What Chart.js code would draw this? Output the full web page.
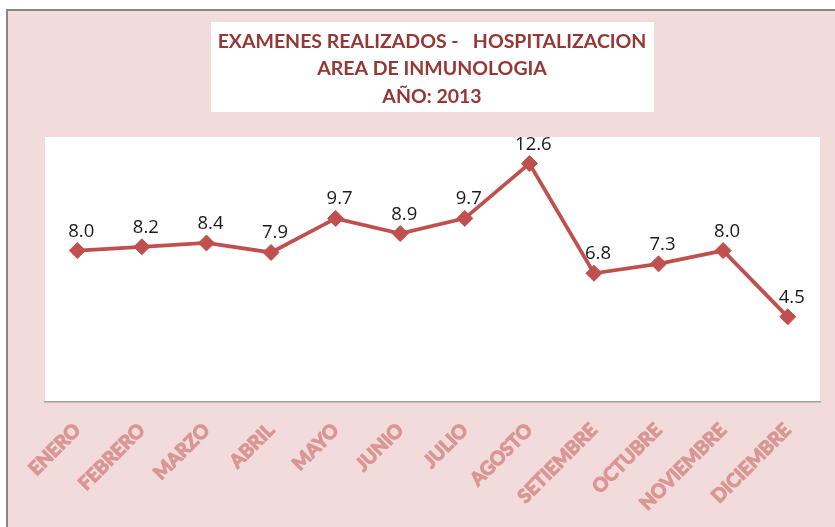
<!DOCTYPE html>
<html>
<head>
<meta charset="utf-8">
<script src="https://cdn.jsdelivr.net/npm/chart.js@4/dist/chart.umd.min.js"></script>
<style>
  html, body { margin: 0; padding: 0; background: #ffffff; }
  #wrap { position: relative; width: 835px; height: 527px; }
</style>
</head>
<body>
<div id="wrap"><canvas id="c" width="835" height="527"></canvas></div>
<script>
const titleLines = ["EXAMENES REALIZADOS -   HOSPITALIZACION", "AREA DE INMUNOLOGIA", "AÑO: 2013"];
const months = ["ENERO", "FEBRERO", "MARZO", "ABRIL", "MAYO", "JUNIO", "JULIO", "AGOSTO", "SETIEMBRE", "OCTUBRE", "NOVIEMBRE", "DICIEMBRE"];
const values = [8.0, 8.2, 8.4, 7.9, 9.7, 8.9, 9.7, 12.6, 6.8, 7.3, 8.0, 4.5];
const yMin = 0;
const yMax = 14;

const backgroundPlugin = {
  id: 'bg',
  beforeDraw(chart) {
    const ctx = chart.ctx;
    const a = chart.chartArea;
    ctx.save();
    ctx.fillStyle = '#ffffff';
    ctx.fillRect(0, 0, chart.width, chart.height);
    ctx.fillStyle = '#868686';
    ctx.fillRect(6, 9, chart.width - 6, chart.height - 9);
    ctx.fillStyle = '#f2dcdb';
    ctx.fillRect(8, 11, chart.width - 8, chart.height - 11);
    // plot area
    ctx.fillStyle = '#ffffff';
    ctx.fillRect(a.left, a.top, a.right - a.left, a.bottom - a.top);
    // title box
    ctx.fillStyle = '#ffffff';
    ctx.fillRect(211, 22, 443, 90);
    ctx.fillStyle = '#953735';
    ctx.font = 'bold 19.5px Lato';
    ctx.textAlign = 'center';
    ctx.textBaseline = 'middle';
    const ys = [42, 69, 97];
    titleLines.forEach((t, i) => ctx.fillText(t, 432, ys[i]));
    ctx.restore();
  }
};

const labelPlugin = {
  id: 'vlabels',
  afterDatasetsDraw(chart) {
    const ctx = chart.ctx;
    const meta = chart.getDatasetMeta(0);
    ctx.save();
    ctx.fillStyle = '#1a1a1a';
    ctx.font = '18.5px "Open Sans"';
    ctx.textAlign = 'center';
    ctx.textBaseline = 'bottom';
    meta.data.forEach((pt, i) => {
      ctx.fillText(values[i].toFixed(1), pt.x + 4, pt.y - 10);
    });
    ctx.restore();
  }
};

new Chart(document.getElementById('c'), {
  type: 'line',
  data: {
    labels: months,
    datasets: [{
      data: values,
      borderColor: '#c0504d',
      borderWidth: 3.75,
      pointStyle: 'rectRot',
      pointRadius: 8,
      pointBackgroundColor: '#c0504d',
      pointBorderColor: '#c0504d',
      pointBorderWidth: 1,
      tension: 0
    }]
  },
  options: {
    responsive: false,
    animation: false,
    layout: { padding: { left: 45, right: 15, top: 137, bottom: 0 } },
    plugins: { legend: { display: false }, tooltip: { enabled: false }, title: { display: false } },
    scales: {
      x: {
        offset: true,
        grid: { display: false, drawTicks: false },
        border: { display: true, color: '#a0a0a0', width: 1.5 },
        ticks: {
          minRotation: 45, maxRotation: 45,
          padding: 17,
          color: '#d99694',
          textStrokeColor: '#d99694',
          textStrokeWidth: 1.2,
          font: { family: 'Lato', weight: 'bold', size: 19 }
        },
        afterFit(s) { s.height = 125; s.paddingLeft = 0; s.paddingRight = 0; }
      },
      y: {
        display: false,
        min: yMin, max: yMax
      }
    }
  },
  plugins: [backgroundPlugin, labelPlugin]
});
</script>
</body>
</html>
